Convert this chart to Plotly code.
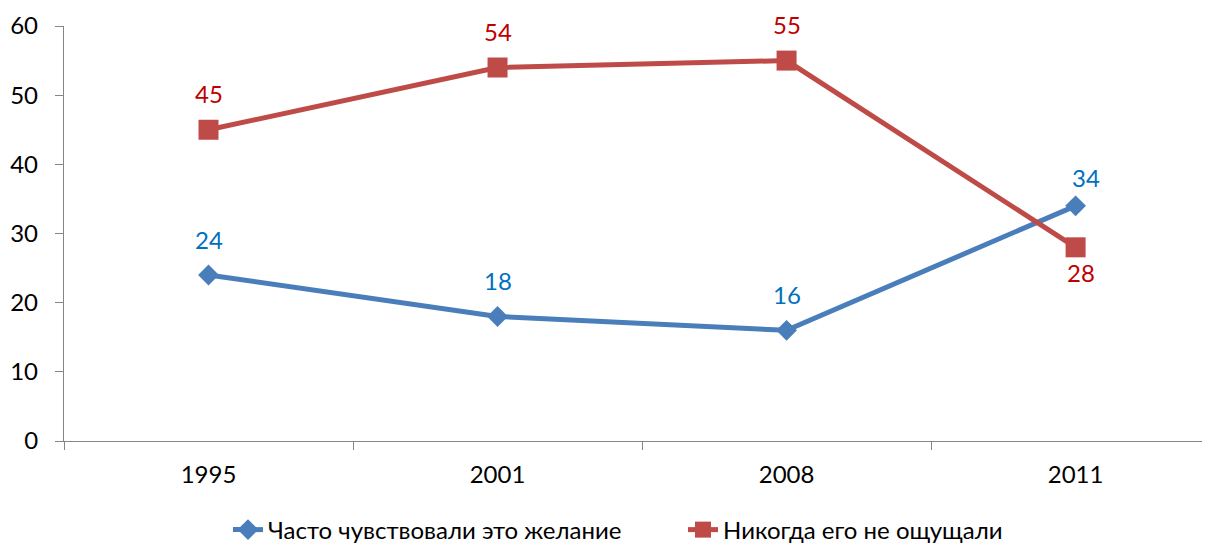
import plotly.graph_objects as go

years = ["1995", "2001", "2008", "2011"]
often = [24, 18, 16, 34]
never = [45, 54, 55, 28]
often_name = "Часто чувствовали это желание"
never_name = "Никогда его не ощущали"

blue_line = "#4A7EBB"
red_line = "#BE4B48"
blue_text = "#0070C0"
red_text = "#C00000"
FONT = "Lato"

# label shifts (px) per point
often_shift = [(0, 36), (0, 36), (0, 36), (10, 28)]
never_shift = [(0, 36), (0, 36), (0, 36), (5, -25)]

fig = go.Figure()
fig.add_trace(go.Scatter(
    x=years, y=often, name=often_name, mode="lines+markers",
    line=dict(color=blue_line, width=5),
    marker=dict(symbol="diamond", size=16, color=blue_line),
))
fig.add_trace(go.Scatter(
    x=years, y=never, name=never_name, mode="lines+markers",
    line=dict(color=red_line, width=5),
    marker=dict(symbol="square", size=20, color=red_line),
))

for vals, shifts, col in [(often, often_shift, blue_text), (never, never_shift, red_text)]:
    for i, (v, (dx, dy)) in enumerate(zip(vals, shifts)):
        fig.add_annotation(
            x=i, y=v, xref="x", yref="y", text=str(v), showarrow=False,
            xshift=dx, yshift=dy,
            font=dict(family=FONT, size=24, color=col),
        )

fig.update_layout(
    width=1202, height=537,
    margin=dict(l=56, r=0, t=18, b=104, autoexpand=False),
    paper_bgcolor="white", plot_bgcolor="white",
    font=dict(family=FONT, size=24, color="black"),
    showlegend=True,
    legend=dict(orientation="h", x=0.1431, xanchor="left", y=-0.2145, yanchor="middle",
                entrywidth=410, entrywidthmode="pixels",
                font=dict(family=FONT, size=24, color="black")),
)
fig.update_xaxes(
    type="category", range=[-0.5, 3.465],
    showline=True, linecolor="#868686", linewidth=1.3,
    ticks="outside", tickson="boundaries", ticklen=8, tickcolor="#868686",
    showgrid=False, zeroline=False, ticklabelstandoff=12,
    tickfont=dict(family=FONT, size=24, color="black"),
)
fig.update_yaxes(
    range=[0, 60], dtick=10,
    showline=True, linecolor="#868686", linewidth=1.3,
    ticks="outside", ticklen=8, tickcolor="#868686",
    showgrid=False, zeroline=False, ticklabelstandoff=12,
    tickfont=dict(family=FONT, size=24, color="black"),
)

fig.write_html("out.html")
